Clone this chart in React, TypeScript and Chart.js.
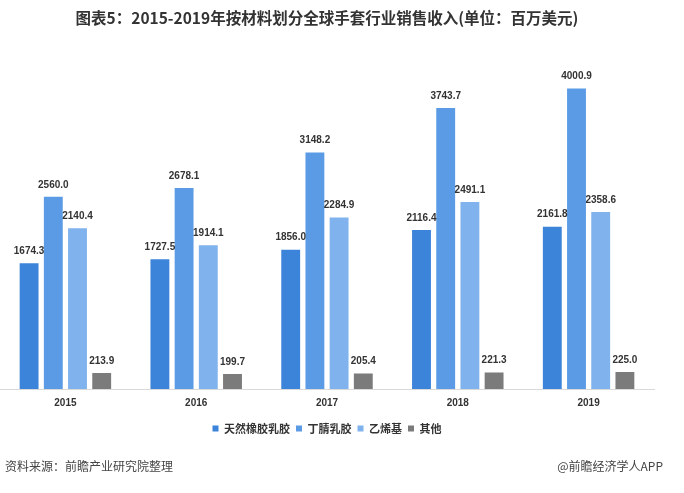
import { useEffect, useRef } from 'react';
import { Chart, registerables } from 'chart.js';
import type { Plugin } from 'chart.js';

Chart.register(...registerables);

// 数据：按材料划分全球手套行业销售收入（百万美元）
const years = ['2015', '2016', '2017', '2018', '2019'];
const naturalLatex = [1674.3, 1727.5, 1856.0, 2116.4, 2161.8];
const nitrileLatex = [2560.0, 2678.1, 3148.2, 3743.7, 4000.9];
const vinyl = [2140.4, 1914.1, 2284.9, 2491.1, 2358.6];
const others = [213.9, 199.7, 205.4, 221.3, 225.0];

const seriesNames = ['天然橡胶乳胶', '丁腈乳胶', '乙烯基', '其他'];
const seriesColors = ['#3c84da', '#5b9be6', '#80b2ed', '#7b7b7b'];

const CJK = '"Noto Sans CJK SC", "Noto Sans", sans-serif';

// 柱顶数值标签
const valueLabels: Plugin<'bar'> = {
  id: 'valueLabels',
  afterDatasetsDraw(chart) {
    const { ctx } = chart;
    ctx.save();
    ctx.font = 'bold 10px "Liberation Sans", Arial, sans-serif';
    ctx.fillStyle = '#333333';
    ctx.textAlign = 'center';
    ctx.textBaseline = 'middle';
    chart.data.datasets.forEach((ds, i) => {
      const meta = chart.getDatasetMeta(i);
      meta.data.forEach((bar, j) => {
        const v = ds.data[j] as number;
        ctx.fillText(v.toFixed(1), bar.x, bar.y - 12);
      });
    });
    ctx.restore();
  }
};

export default function App() {
  const canvasRef = useRef<HTMLCanvasElement>(null);

  useEffect(() => {
    if (!canvasRef.current) return;
    const chart = new Chart(canvasRef.current, {
      type: 'bar',
      data: {
        labels: years,
        datasets: [naturalLatex, nitrileLatex, vinyl, others].map((data, i) => ({
          label: seriesNames[i],
          data,
          backgroundColor: seriesColors[i],
          categoryPercentage: 0.74,
          barPercentage: 0.78
        }))
      },
      options: {
        responsive: false,
        animation: false,
        layout: { padding: { left: 0, right: 30, top: 0, bottom: 49 } },
        scales: {
          x: {
            grid: { display: false, drawTicks: false },
            border: { display: true, color: '#d9d9d9', width: 1 },
            ticks: {
              color: '#333333',
              padding: 8,
              font: { family: '"Liberation Sans", Arial, sans-serif', size: 10, weight: 'bold' }
            }
          },
          y: {
            display: false,
            min: 0,
            max: 4600
          }
        },
        plugins: {
          title: {
            display: true,
            text: '图表5：2015-2019年按材料划分全球手套行业销售收入(单位：百万美元)',
            color: '#333333',
            padding: { top: 9, bottom: 16 },
            font: { family: CJK, size: 15.5, weight: 'bold' }
          },
          legend: {
            position: 'bottom',
            labels: {
              boxWidth: 6,
              boxHeight: 6,
              padding: 6,
              color: '#333333',
              font: { family: CJK, size: 11, weight: 'bold' }
            }
          },
          tooltip: { enabled: false }
        }
      },
      plugins: [valueLabels]
    });
    return () => chart.destroy();
  }, []);

  return (
    <div
      style={{
        position: 'fixed',
        left: 0,
        top: 0,
        width: 684,
        height: 493,
        background: '#ffffff'
      }}
    >
      <canvas ref={canvasRef} width={684} height={493} style={{ width: 684, height: 493 }} />
      <div
        style={{
          position: 'absolute',
          left: 5,
          top: 457,
          fontFamily: CJK,
          fontSize: 12,
          color: '#444444'
        }}
      >
        资料来源：前瞻产业研究院整理
      </div>
      <div
        style={{
          position: 'absolute',
          right: 21,
          top: 457,
          fontFamily: CJK,
          fontSize: 12,
          color: '#444444'
        }}
      >
        @前瞻经济学人APP
      </div>
    </div>
  );
}
